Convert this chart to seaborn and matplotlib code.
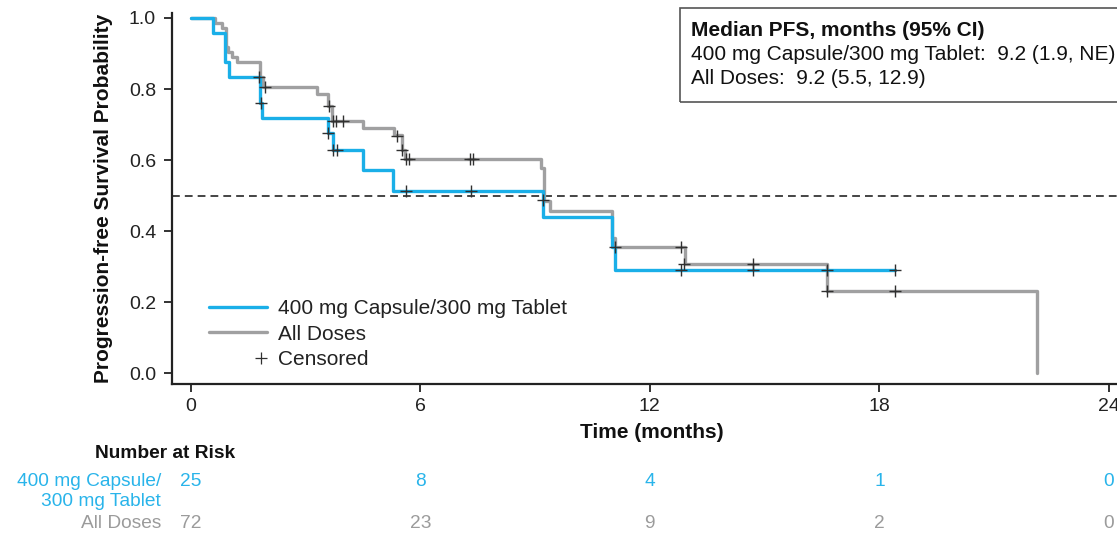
import numpy as np
import pandas as pd
import matplotlib
matplotlib.use("Agg")
import matplotlib.pyplot as plt
import seaborn as sns
from matplotlib.lines import Line2D
from matplotlib.patches import Rectangle
from matplotlib.legend_handler import HandlerBase

# ---------------- data ----------------
blue_label = "400 mg Capsule/300 mg Tablet"
gray_label = "All Doses"

blue_time = [0, 0.58, 0.90, 1.01, 1.81, 1.87, 3.60, 3.72, 4.51, 5.28, 9.22, 11.00, 11.09, 18.41]
blue_surv = [1.0, 0.957, 0.877, 0.835, 0.76, 0.718, 0.675, 0.628, 0.572, 0.514, 0.441, 0.356, 0.291, 0.291]

gray_time = [0, 0.64, 0.81, 0.92, 0.98, 1.07, 1.20, 1.81, 1.90, 3.29, 3.60, 3.69, 4.51, 5.30,
             5.51, 5.60, 9.15, 9.23, 9.39, 11.00, 11.09, 12.92, 16.62, 22.11]
gray_surv = [1.0, 0.986, 0.972, 0.917, 0.903, 0.889, 0.875, 0.833, 0.805, 0.786, 0.753, 0.709, 0.690, 0.671,
             0.629, 0.603, 0.578, 0.484, 0.456, 0.381, 0.356, 0.308, 0.231, 0.0]

blue_cens_time = [1.83, 3.58, 3.73, 3.82, 5.63, 7.32, 12.82, 14.70, 16.62, 18.41]
blue_cens_surv = [0.76, 0.675, 0.628, 0.628, 0.514, 0.514, 0.291, 0.291, 0.291, 0.291]

gray_cens_time = [1.78, 1.93, 3.62, 3.71, 3.80, 3.97, 5.38, 5.51, 5.63, 5.71, 7.30, 7.39, 9.20,
                  11.09, 12.82, 12.88, 14.70, 16.62, 18.41]
gray_cens_surv = [0.833, 0.805, 0.753, 0.709, 0.709, 0.709, 0.667, 0.629, 0.603, 0.603, 0.603, 0.603, 0.489,
                  0.356, 0.356, 0.308, 0.308, 0.231, 0.231]

x_ticks = [0, 6, 12, 18, 24]
y_ticks = [0.0, 0.2, 0.4, 0.6, 0.8, 1.0]
risk_blue = [25, 8, 4, 1, 0]
risk_gray = [72, 23, 9, 2, 0]

median_title = "Median PFS, months (95% CI)"
median_lines = ["400 mg Capsule/300 mg Tablet:  9.2 (1.9, NE)",
                "All Doses:  9.2 (5.5, 12.9)"]

# ---------------- style ----------------
sns.set_style("ticks")
plt.rcParams["font.family"] = ["Liberation Sans", "DejaVu Sans"]

BLUE = "#1AAFE8"
GRAY = "#A0A0A1"
BLUE_TXT = "#29B4EA"
GRAY_TXT = "#9B9B9B"
DARK = "#222222"
CENS = "#303030"

fig = plt.figure(figsize=(11.17, 5.35), dpi=100)
ax = fig.add_axes([172 / 1117, 1 - 384 / 535, 1 - 172 / 1117, (384 - 13) / 535])

df_gray = pd.DataFrame({"t": gray_time, "s": gray_surv})
df_blue = pd.DataFrame({"t": blue_time, "s": blue_surv})

sns.lineplot(data=df_gray, x="t", y="s", drawstyle="steps-post", color=GRAY, lw=2.4,
             estimator=None, ax=ax, legend=False)
sns.lineplot(data=df_blue, x="t", y="s", drawstyle="steps-post", color=BLUE, lw=2.4,
             estimator=None, ax=ax, legend=False)

cens_t = gray_cens_time + blue_cens_time
cens_s = gray_cens_surv + blue_cens_surv
sns.scatterplot(x=cens_t, y=cens_s, marker="+", s=80, color=CENS, linewidth=1.0,
                ax=ax, legend=False, zorder=5)

ax.axhline(0.5, color="#444444", lw=1.4, ls=(0, (4, 2.6)), zorder=1)

ax.set_xlim(-0.49, 24.21)
ax.set_ylim(-0.030, 1.014)
ax.set_xticks(x_ticks)
ax.set_xticklabels([str(v) for v in x_ticks])
ax.set_yticks(y_ticks)
ax.set_yticklabels([f"{v:.1f}" for v in y_ticks])
ax.tick_params(axis="both", labelsize=14, colors=DARK, length=6, width=1.3, direction="out")
ax.tick_params(axis="x", pad=4)
ax.tick_params(axis="y", pad=5.5)
for s in ["top", "right"]:
    ax.spines[s].set_visible(False)
for s in ["left", "bottom"]:
    ax.spines[s].set_color(DARK)
    ax.spines[s].set_linewidth(1.6)

ax.set_xlabel("Time (months)", fontsize=15, fontweight="bold", color="#111111")
ax.xaxis.set_label_coords((652 - 172) / 945, (384 - 432) / 371)
ax.xaxis.label.set_va("center")
ax.set_ylabel("Progression-free Survival Probability", fontsize=15, fontweight="bold", color="#111111")
ax.yaxis.set_label_coords((113 - 172) / 945, 0.5)


# legend: censor marker sits at the right of its handle box
class HandlerRightPlus(HandlerBase):
    def create_artists(self, legend, orig_handle, xdescent, ydescent, width, height, fontsize, trans):
        x = width - xdescent - 0.11 * width
        y = (height - ydescent) / 2
        ln = Line2D([x], [y], marker="+", ls="none", color=CENS, markersize=9, markeredgewidth=0.9)
        ln.set_transform(trans)
        return [ln]


cens_handle = Line2D([], [], color=CENS, marker="+", ls="none")
handles = [Line2D([], [], color=BLUE, lw=2.4),
           Line2D([], [], color=GRAY, lw=2.4),
           cens_handle]
leg = ax.legend(handles, [blue_label, gray_label, "Censored"], loc="lower left",
                bbox_to_anchor=((209 - 172) / 945, (384 - 369) / 371), frameon=False,
                fontsize=15, handlelength=2.8, handletextpad=0.5, labelspacing=0.3,
                borderaxespad=0, borderpad=0,
                handler_map={cens_handle: HandlerRightPlus()})
for t in leg.get_texts():
    t.set_color(DARK)

# median box
fig.patches.append(Rectangle((680 / 1117, 1 - 102 / 535), 0.5, (102 - 8) / 535,
                             transform=fig.transFigure, fill=False, edgecolor="#555555",
                             lw=1.2, zorder=10))
fig.text(691 / 1117, 1 - 30 / 535, median_title, fontsize=15, fontweight="bold",
         color="#111111", va="center", ha="left")
for i, line in enumerate(median_lines):
    fig.text(691 / 1117, 1 - (54 + 24 * i) / 535, line, fontsize=15, color="#111111",
             va="center", ha="left")

# number at risk
trans = matplotlib.transforms.blended_transform_factory(ax.transData, fig.transFigure)
RFS = 13.8
fig.text(165 / 1117, 1 - 453 / 535, "Number at Risk", fontsize=RFS, fontweight="bold",
         color="#111111", ha="center", va="center")
fig.text(161 / 1117, 1 - 481 / 535, "400 mg Capsule/", fontsize=RFS, color=BLUE_TXT, ha="right", va="center")
fig.text(161 / 1117, 1 - 501 / 535, "300 mg Tablet", fontsize=RFS, color=BLUE_TXT, ha="right", va="center")
fig.text(161 / 1117, 1 - 524 / 535, gray_label, fontsize=RFS, color=GRAY_TXT, ha="right", va="center")
for xv, b, g in zip(x_ticks, risk_blue, risk_gray):
    ax.text(xv, 1 - 481 / 535, str(b), transform=trans, fontsize=RFS, color=BLUE_TXT,
            ha="center", va="center", clip_on=False)
    ax.text(xv, 1 - 524 / 535, str(g), transform=trans, fontsize=RFS, color=GRAY_TXT,
            ha="center", va="center", clip_on=False)

fig.savefig("out.png", dpi=100)
